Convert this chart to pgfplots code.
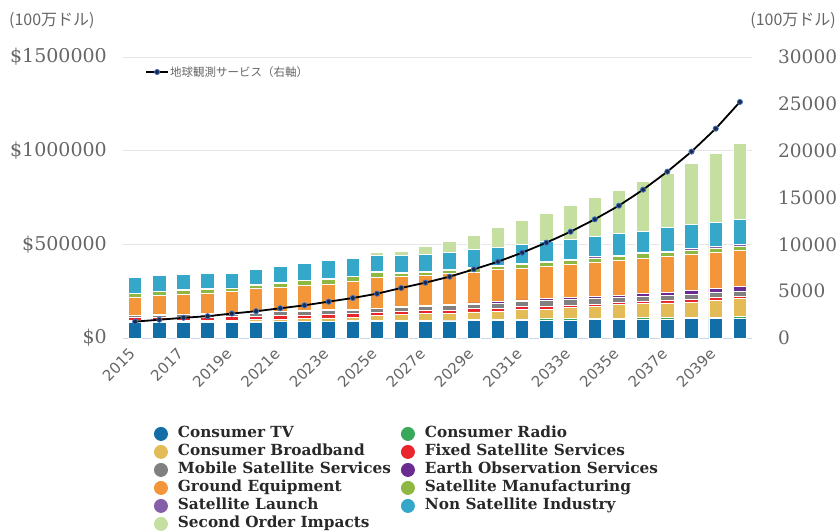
\documentclass[border=0pt]{standalone}
\usepackage{pgfplots}
\pgfplotsset{compat=1.18}
\usepackage{pgfplotstable}
\usepackage{fontspec}
\setmainfont{DejaVu Serif}
\newfontfamily\cjk{Noto Sans CJK JP}
\newfontfamily\xfont{DejaVu Sans}
\newfontfamily\yfont{DejaVu Serif}
\definecolor{cTV}{RGB}{17,110,166}
\definecolor{cRadio}{RGB}{56,168,90}
\definecolor{cBB}{RGB}{227,188,88}
\definecolor{cFSS}{RGB}{232,38,43}
\definecolor{cMSS}{RGB}{128,128,128}
\definecolor{cEO}{RGB}{107,44,145}
\definecolor{cGE}{RGB}{243,149,57}
\definecolor{cMfg}{RGB}{143,184,67}
\definecolor{cLaunch}{RGB}{133,96,168}
\definecolor{cNS}{RGB}{53,167,200}
\definecolor{cSO}{RGB}{197,223,160}
\definecolor{tickgray}{RGB}{102,102,102}
\definecolor{gridc}{RGB}{230,230,230}
\definecolor{basec}{RGB}{204,214,235}
\definecolor{legtext}{RGB}{40,40,40}
\definecolor{mkfill}{RGB}{27,42,71}
\definecolor{mkdraw}{RGB}{61,114,201}

\pgfplotstableread{
idx TV Radio BB FSS MSS EO GE Mfg Launch NS SO
0 83000 4000 6000 16000 11250 1750 97000 17000 3000 84600 1000
1 84000 4000 6000 16000 12050 1950 103000 19000 3000 83200 1000
2 84000 4000 6000 17000 13840 2160 108000 19000 3000 82600 1000
3 85000 4000 6000 17000 14670 2330 111000 19000 3000 82600 1000
4 85000 4000 7000 17000 14390 2610 116000 18000 3000 78300 2000
5 85000 4000 8000 20000 15140 2860 127000 20000 4000 79000 2000
6 86000 4000 10000 20000 19830 3170 127000 22000 4000 88300 3000
7 86000 4000 14000 19000 20510 3490 134000 24000 4000 89400 3000
8 86000 5000 16000 18000 22120 3880 137000 24000 4000 96300 4000
9 87000 5000 20000 17000 19730 4270 149000 24000 4000 94800 5000
10 87000 5000 27000 16000 20270 4730 164000 25000 5000 84500 15700
11 88000 5000 31000 16000 20660 5340 160000 17000 5000 93000 21300
12 89000 6000 34000 16000 22090 5910 159000 17000 5000 90700 44300
13 91000 5000 36000 16000 23450 6550 164000 21000 5000 89300 58700
14 93000 6000 40000 17000 23670 7330 165000 21000 5000 93100 76300
15 93000 6000 43000 17000 27850 8150 170000 15000 7000 97000 106800
16 94000 6000 50000 16000 27890 9110 167000 21000 7000 100100 128200
17 95000 7000 52000 15000 29820 10180 173000 21000 7000 105400 151700
18 96000 7000 58000 14000 29650 11350 175000 23000 7000 107200 177700
19 97000 7000 63000 14000 28330 12670 182000 23000 7000 105500 208200
20 98000 8000 72000 13000 23870 14130 184000 22000 8000 112600 231100
21 99000 9000 75000 13000 26160 15840 189000 22000 8000 112000 266900
22 101000 8000 78000 12000 28240 17760 189000 21000 9000 126400 290400
23 102000 8000 82000 12000 28100 19900 194000 23000 9000 126500 325600
24 103000 9000 90000 12000 28650 22350 190000 24000 10000 129400 366700
25 104000 10000 96000 12000 27800 25200 191000 22000 10000 133500 409400
}\datatable

\pgfplotsset{
  barseg/.style={fill=#1, draw=white, line width=0.9pt,
    legend image code/.code={\fill[#1] (0pt,0pt) circle (6.5pt);}},
  geom/.style={at={(123pt,193pt)}, anchor=south west, scale only axis,
    width=629pt, height=281pt, xmin=-0.5, xmax=25.5}
}

\begin{document}
\begin{tikzpicture}
\useasboundingbox (0,0) rectangle (837pt,531pt);

\begin{axis}[geom,
  ybar stacked, bar width=13.5pt,
  ymin=0, ymax=1500000,
  axis x line*=bottom, axis y line*=left,
  x axis line style={color=basec, line width=1pt},
  y axis line style={draw=none},
  major tick length=0pt,
  xtick={0,2,...,24},
  xticklabels={2015,2017,2019e,2021e,2023e,2025e,2027e,2029e,2031e,2033e,2035e,2037e,2039e},
  x tick label style={font=\xfont\fontsize{15}{15}\selectfont, text=tickgray,
     inner sep=0pt, xshift=-3pt, yshift=-13pt, rotate=45, anchor=east},
  ytick={0,500000,1000000,1500000},
  yticklabels={\$0,\$500000,\$1000000,\$1500000},
  y tick label style={font=\yfont\fontsize{19}{19}\selectfont, text=tickgray,
     inner sep=0pt, anchor=east, xshift=-16pt},
  scaled y ticks=false,
  ymajorgrids, major grid style={color=gridc, line width=0.8pt},
  legend columns=2,
  legend cell align=left,
  legend style={at={(0.049,-0.314)}, anchor=north west, draw=none, fill=none,
    inner sep=0pt, row sep=3pt,
    font=\bfseries\fontsize{15.3}{16}\selectfont, text=legtext,
    nodes={inner ysep=0.5pt, inner xsep=3pt, text height=11pt, text depth=3pt},
    /tikz/every odd column/.append style={column sep=7pt},
    /tikz/every even column/.append style={column sep=7pt}},
]
\addplot[barseg=cTV] table[x=idx,y=TV]{\datatable};
\addlegendentry{Consumer TV}
\addplot[barseg=cRadio] table[x=idx,y=Radio]{\datatable};
\addlegendentry{Consumer Radio}
\addplot[barseg=cBB] table[x=idx,y=BB]{\datatable};
\addlegendentry{Consumer Broadband}
\addplot[barseg=cFSS] table[x=idx,y=FSS]{\datatable};
\addlegendentry{Fixed Satellite Services}
\addplot[barseg=cMSS] table[x=idx,y=MSS]{\datatable};
\addlegendentry{Mobile Satellite Services}
\addplot[barseg=cEO] table[x=idx,y=EO]{\datatable};
\addlegendentry{Earth Observation Services}
\addplot[barseg=cGE] table[x=idx,y=GE]{\datatable};
\addlegendentry{Ground Equipment}
\addplot[barseg=cMfg] table[x=idx,y=Mfg]{\datatable};
\addlegendentry{Satellite Manufacturing}
\addplot[barseg=cLaunch] table[x=idx,y=Launch]{\datatable};
\addlegendentry{Satellite Launch}
\addplot[barseg=cNS] table[x=idx,y=NS]{\datatable};
\addlegendentry{Non Satellite Industry}
\addplot[barseg=cSO] table[x=idx,y=SO]{\datatable};
\addlegendentry{Second Order Impacts}
\end{axis}

\begin{axis}[geom,
  ymin=0, ymax=30000,
  axis x line=none, axis y line*=right,
  y axis line style={draw=none},
  major tick length=0pt,
  ytick={0,5000,...,30000},
  scaled y ticks=false,
  /pgf/number format/1000 sep={},
  /pgf/number format/assume math mode=true,
  y tick label style={font=\yfont\fontsize{18.5}{18.5}\selectfont, text=tickgray,
     inner sep=0pt, anchor=west, xshift=26pt},
  clip=false,
  legend style={at={(0.035,0.9466)}, anchor=west, draw=none, fill=none,
    inner sep=0pt, font=\cjk\fontsize{11.5}{12}\selectfont, text=tickgray,
    nodes={inner xsep=1pt}},
  legend image code/.code={\draw[mark repeat=2,mark phase=2,#1] plot coordinates {(0pt,0pt) (11pt,0pt) (22pt,0pt)};},
]
\addplot[black, line width=1.8pt, mark=*, mark size=2.6pt,
  mark options={fill=mkfill, draw=mkdraw, line width=0.8pt}]
  table[x=idx,y=EO]{\datatable};
\addlegendentry{地球観測サービス（右軸）}
\end{axis}

\node[anchor=west, font=\cjk\fontsize{16}{16}\selectfont, text=tickgray, inner sep=0pt] at (9pt,510pt) {(100万ドル)};
\node[anchor=east, font=\cjk\fontsize{16}{16}\selectfont, text=tickgray, inner sep=0pt] at (836pt,510pt) {(100万ドル)};
\end{tikzpicture}
\end{document}
